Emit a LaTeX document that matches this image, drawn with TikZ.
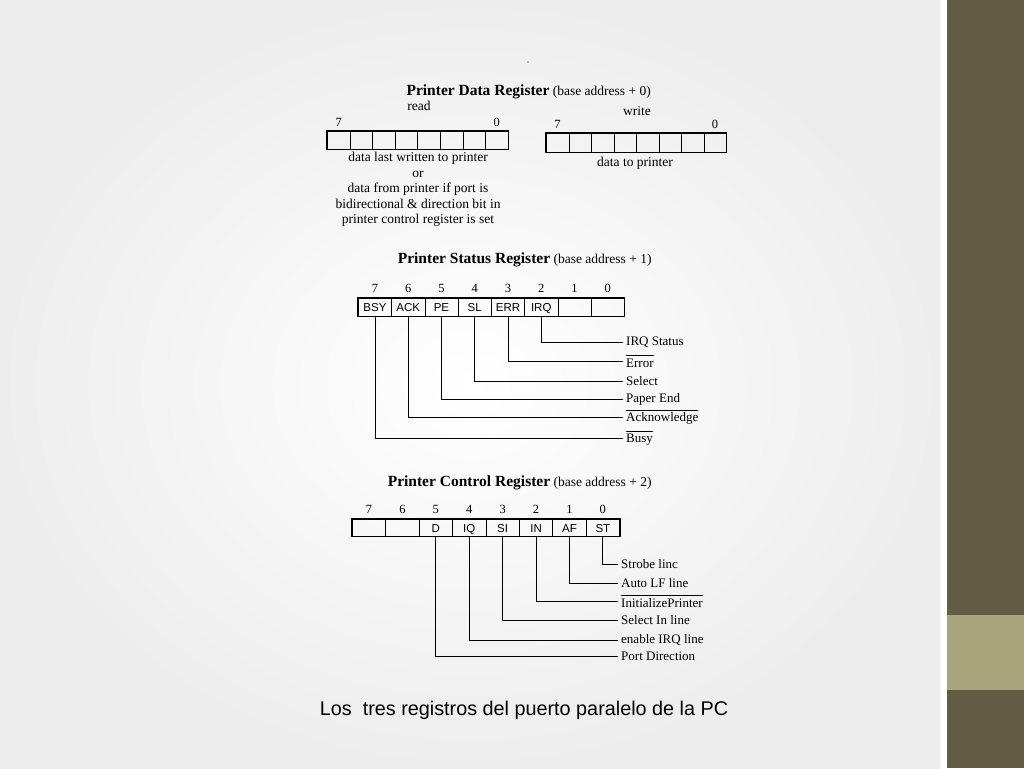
\documentclass[tikz,border=0pt]{standalone}
\usepackage{fontspec}
\setmainfont{Liberation Serif}
\newfontfamily\capfont{Liberation Sans}
\usetikzlibrary{positioning}

\definecolor{banddark}{HTML}{645D45}
\definecolor{bandlight}{HTML}{A9A67C}

\newcommand\lowact[1]{\ensuremath{\overline{\rule{0pt}{10.5pt}\hbox{#1}}}}

\tikzset{
  cell/.style={draw, line width=0.7pt, inner sep=0pt, anchor=north west,
    text height=8.3pt, text depth=0pt, font=\capfont\fontsize{11.5}{12}\selectfont},
  frame/.style={line width=1.5pt},
  bitnum/.style={inner sep=0pt, font=\fontsize{12.5}{13}\selectfont},
  regtitle/.style={inner sep=0pt, font=\fontsize{15.5}{17}\selectfont\bfseries},
  regsub/.style={inner sep=0pt, anchor=base west, font=\fontsize{13.5}{15}\selectfont},
  note/.style={inner sep=0pt, font=\fontsize{13.5}{15.5}\selectfont},
  sig/.style={anchor=west, inner sep=3pt, font=\fontsize{13}{14}\selectfont},
  lead/.style={line width=0.9pt}
}

\begin{document}
\begin{tikzpicture}[x=1pt,y=-1pt]
  \useasboundingbox (0,0) rectangle (1024,768);
  \shade[inner color=white, outer color=black!7] (0,0) rectangle (940,768);
  \fill[white] (940,0) rectangle (947,768);
  \fill[banddark] (947,0) rectangle (1024,768);
  \fill[bandlight] (947,615) rectangle (1024,690);

  % data register
  \fill (528,62) circle (0.7pt);
  \node[regtitle] (dtitle) at (478,92) {Printer Data Register};
  \node[regsub] (dsub) at ([xshift=3pt]dtitle.base east) {(base address + 0)};
  \node[note] (rd) at (419,106) {read};
  \node[note] (wr) at (637,111) {write};

  \foreach \k in {0,...,7}
    \node[cell, minimum width=22.6pt, minimum height=18pt] (r\k) at (327+\k*22.6,131) {};
  \draw[frame] (r0.north west) rectangle (r7.south east);
  \node[bitnum, above=4pt of r0] (r0n) {7};
  \node[bitnum, above=4pt of r7] (r7n) {0};
  \node[note, align=center, anchor=north] (rdesc) at (418,152)
    {data last written to printer\\or\\data from printer if port is\\
     bidirectional \& direction bit in\\printer control register is set};

  \foreach \k in {0,...,7}
    \node[cell, minimum width=22.5pt, minimum height=19pt] (w\k) at (546+\k*22.5,133) {};
  \draw[frame] (w0.north west) rectangle (w7.south east);
  \node[bitnum, above=4pt of w0] (w0n) {7};
  \node[bitnum, above=4pt of w7] (w7n) {0};
  \node[note] (wdesc) at (635,163) {data to printer};

  % status register
  \node[regtitle] (stitle) at (474,260) {Printer Status Register};
  \node[regsub] (ssub) at ([xshift=3pt]stitle.base east) {(base address + 1)};
  \foreach \b/\t [count=\k from 0] in {7/BSY,6/ACK,5/PE,4/SL,3/ERR,2/IRQ,1/,0/}{
    \node[cell, minimum width=33.25pt, minimum height=18pt] (s\b) at (358+\k*33.25,298) {\t};
    \node[bitnum, above=5pt of s\b] (s\b n) {\b};
  }
  \draw[frame] (s7.north west) rectangle (s0.south east);

  \node[sig] (irqst) at (623,342) {IRQ Status};
  \node[sig] (err) at (623,361) {\lowact{Error}};
  \node[sig] (sel) at (623,381) {Select};
  \node[sig] (pend) at (623,399) {Paper End};
  \node[sig] (ack) at (623,417) {\lowact{Acknowledge}};
  \node[sig] (busy) at (623,438) {\lowact{Busy}};
  \draw[lead] (s2.south) |- (irqst.west);
  \draw[lead] (s3.south) |- (err.west);
  \draw[lead] (s4.south) |- (sel.west);
  \draw[lead] (s5.south) |- (pend.west);
  \draw[lead] (s6.south) |- (ack.west);
  \draw[lead] (s7.south) |- (busy.west);

  % control register
  \node[regtitle] (ctitle) at (469,483) {Printer Control Register};
  \node[regsub] (csub) at ([xshift=3pt]ctitle.base east) {(base address + 2)};
  \foreach \b/\t [count=\k from 0] in {7/,6/,5/D,4/IQ,3/SI,2/IN,1/AF,0/ST}{
    \node[cell, minimum width=33.4pt, minimum height=17pt] (c\b) at (352+\k*33.4,519) {\t};
    \node[bitnum, above=5pt of c\b] (c\b n) {\b};
  }
  \draw[frame] (c7.north west) rectangle (c0.south east);

  \node[sig] (strb) at (618,564) {Strobe linc};
  \node[sig] (alf) at (618,583) {Auto LF line};
  \node[sig] (init) at (618,601) {\lowact{InitializePrinter}};
  \node[sig] (selin) at (618,620) {Select In line};
  \node[sig] (eirq) at (618,640) {enable IRQ line};
  \node[sig] (pdir) at (618,656) {Port Direction};
  \draw[lead] (c0.south) |- (strb.west);
  \draw[lead] (c1.south) |- (alf.west);
  \draw[lead] (c2.south) |- (init.west);
  \draw[lead] (c3.south) |- (selin.west);
  \draw[lead] (c4.south) |- (eirq.west);
  \draw[lead] (c5.south) |- (pdir.west);

  \node[font=\capfont\fontsize{19.8}{22}\selectfont, inner sep=0pt] (caption) at (524,710)
    {Los\ \ tres registros del puerto paralelo de la PC};
\end{tikzpicture}
\end{document}
